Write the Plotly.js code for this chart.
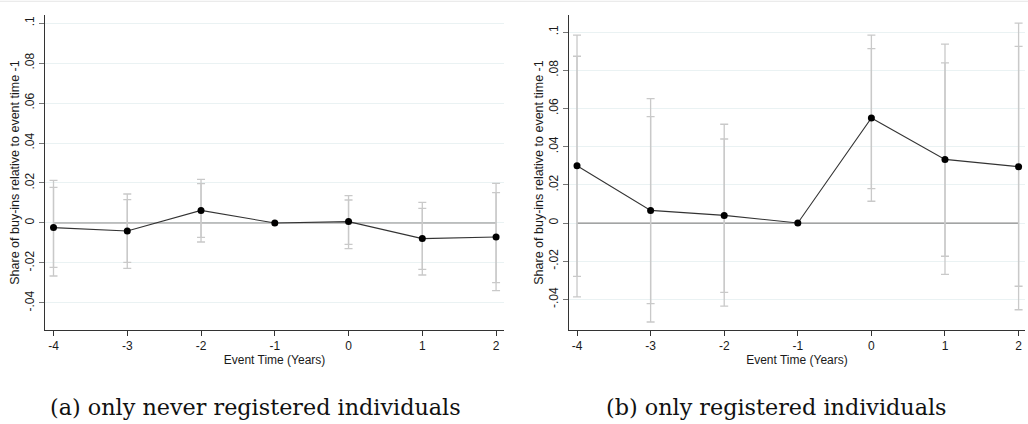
<!DOCTYPE html>
<html>
<head>
<meta charset="utf-8">
<script src="https://cdn.plot.ly/plotly-3.0.1.min.js"></script>
<style>html,body{margin:0;padding:0;background:#fff;}#chart{width:1028px;height:424px;}</style>
</head>
<body>
<div id="chart"></div>
<script>
// Event time categories
const eventTime = [-4, -3, -2, -1, 0, 1, 2];
const xTickLabels = ['-4', '-3', '-2', '-1', '0', '1', '2'];
const yTickVals = [-0.04, -0.02, 0, 0.02, 0.04, 0.06, 0.08, 0.1];
const yTickLabels = ['-.04', '-.02', '0', '.02', '.04', '.06', '.08', '.1'];

// Panel (a): only never registered individuals
const aCoef   = [-0.0023, -0.0040, 0.0063, 0, 0.0007, -0.0078, -0.0070];
const aHi95   = [0.0213, 0.0145, 0.0218, null, 0.0137, 0.0103, 0.0198];
const aLo95   = [-0.0265, -0.0227, -0.0095, null, -0.0128, -0.0260, -0.0338];
const aHi90   = [0.0178, 0.0117, 0.0197, null, 0.0115, 0.0073, 0.0152];
const aLo90   = [-0.0222, -0.0197, -0.0072, null, -0.0107, -0.0232, -0.0298];

// Panel (b): only registered individuals
const bCoef   = [0.0300, 0.0066, 0.0040, 0, 0.0550, 0.0333, 0.0295];
const bHi95   = [0.0984, 0.0651, 0.0517, null, 0.0984, 0.0937, 0.1046];
const bLo95   = [-0.0387, -0.0518, -0.0435, null, 0.0114, -0.0269, -0.0454];
const bHi90   = [0.0873, 0.0557, 0.0440, null, 0.0913, 0.0838, 0.0925];
const bLo90   = [-0.0279, -0.0422, -0.0363, null, 0.0180, -0.0174, -0.0331];

const captions = ['(a) only never registered individuals', '(b) only registered individuals'];
const xTitle = 'Event Time (Years)';
const yTitle = 'Share of buy-ins relative to event time -1';

const ciColor = '#c9c9c9';
const tickFont = {family: 'Liberation Sans Narrow, Arial Narrow, Liberation Sans, Arial, sans-serif', size: 12, color: '#1a1a1a'};

function ciTrace(coef, hi, lo, xa, ya) {
  const keep = hi.map(v => v !== null);
  const xs = eventTime.filter((_, i) => keep[i]);
  const ys = coef.filter((_, i) => keep[i]);
  const up = coef.map((c, i) => keep[i] ? hi[i] - c : 0).filter((_, i) => keep[i]);
  const dn = coef.map((c, i) => keep[i] ? c - lo[i] : 0).filter((_, i) => keep[i]);
  return {
    x: xs, y: ys, xaxis: xa, yaxis: ya, type: 'scatter', mode: 'markers',
    marker: {size: 1, color: 'rgba(0,0,0,0)'},
    error_y: {type: 'data', symmetric: false, array: up, arrayminus: dn,
      color: ciColor, thickness: 1.3, width: 4},
    hoverinfo: 'skip', showlegend: false
  };
}
function zeroLine(xa, ya) {
  return {x: [eventTime[0], eventTime[eventTime.length - 1]], y: [0, 0], xaxis: xa, yaxis: ya,
    type: 'scatter', mode: 'lines', line: {color: '#8a8a8a', width: 1.2}, showlegend: false, hoverinfo: 'skip'};
}
function coefTrace(coef, xa, ya) {
  return {x: eventTime, y: coef, xaxis: xa, yaxis: ya, type: 'scatter', mode: 'lines+markers',
    line: {color: '#333333', width: 1.1}, marker: {color: '#000', size: 7}, showlegend: false};
}

const data = [
  zeroLine('x', 'y'),
  ciTrace(aCoef, aHi95, aLo95, 'x', 'y'),
  ciTrace(aCoef, aHi90, aLo90, 'x', 'y'),
  coefTrace(aCoef, 'x', 'y'),
  zeroLine('x2', 'y2'),
  ciTrace(bCoef, bHi95, bLo95, 'x2', 'y2'),
  ciTrace(bCoef, bHi90, bLo90, 'x2', 'y2'),
  coefTrace(bCoef, 'x2', 'y2')
];

function xAxis(domain, range, anchor) {
  return {domain: domain, range: range, anchor: anchor, tickmode: 'array', tickvals: eventTime, ticktext: xTickLabels,
    ticks: 'outside', ticklen: 5, tickcolor: '#333', showgrid: false, zeroline: false,
    showline: true, linecolor: '#333', linewidth: 1, tickfont: tickFont,
    title: {text: xTitle, font: tickFont, standoff: 2}};
}
function yAxis(range, anchor) {
  return {domain: [0.2217, 0.9646], range: range, anchor: anchor, tickmode: 'array', tickvals: yTickVals, ticktext: yTickLabels,
    tickangle: -90, ticks: 'outside', ticklen: 5, tickcolor: '#777', showgrid: true, gridcolor: '#eaf2f3', gridwidth: 1,
    zeroline: false, showline: true, linecolor: '#333', linewidth: 1, tickfont: tickFont,
    title: {text: yTitle, font: {family: 'Liberation Sans, Arial, sans-serif', size: 12.5, color: '#1a1a1a'}, standoff: 0}};
}

const layout = {
  width: 1028, height: 424,
  margin: {l: 0, r: 0, t: 0, b: 0},
  paper_bgcolor: '#fff', plot_bgcolor: '#fff',
  xaxis: xAxis([0.0438, 0.4903], [-4.115, 2.108], 'y'),
  yaxis: yAxis([-0.0535, 0.104], 'x'),
  xaxis2: xAxis([0.5535, 0.997], [-4.109, 2.086], 'y2'),
  yaxis2: yAxis([-0.056, 0.1089], 'x2'),
  shapes: [
    {type: 'line', xref: 'paper', yref: 'paper', x0: 0, x1: 1, y0: 0.997, y1: 0.997, line: {color: '#e6e6e6', width: 1}}
  ],
  annotations: [
    {text: captions[0], xref: 'paper', yref: 'paper', x: 255 / 1028, y: 1 - 407 / 424, xanchor: 'center', yanchor: 'middle',
      showarrow: false, font: {family: 'DejaVu Serif, Liberation Serif, serif', size: 22.3, color: '#111'}},
    {text: captions[1], xref: 'paper', yref: 'paper', x: 776 / 1028, y: 1 - 407 / 424, xanchor: 'center', yanchor: 'middle',
      showarrow: false, font: {family: 'DejaVu Serif, Liberation Serif, serif', size: 22.3, color: '#111'}}
  ]
};

Plotly.newPlot('chart', data, layout, {displayModeBar: false, staticPlot: true});
</script>
</body>
</html>
